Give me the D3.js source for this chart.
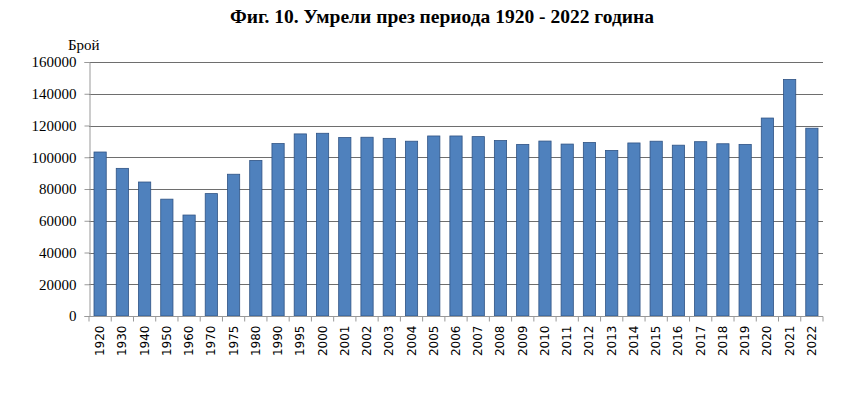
<!DOCTYPE html>
<html>
<head>
<meta charset="utf-8">
<style>
  body { margin: 0; background: #fff; }
  .title { font-family: "Liberation Serif", "Times New Roman", serif; font-weight: bold; font-size: 19.5px; }
  .ylab, .yaxis text { font-family: "Liberation Serif", "Times New Roman", serif; font-size: 15px; }
  .xaxis text { font-family: "DejaVu Sans", Verdana, sans-serif; font-size: 12px; }
</style>
</head>
<body>
<svg width="863" height="394"></svg>
<script src="https://d3js.org/d3.v7.min.js"></script>
<script>
  // years and number of deaths
  const years = ["1920","1930","1940","1950","1960","1970","1975","1980","1990","1995",
    "2000","2001","2002","2003","2004","2005","2006","2007","2008","2009","2010","2011",
    "2012","2013","2014","2015","2016","2017","2018","2019","2020","2021","2022"];
  const deaths = [103300, 93000, 84400, 73600, 63600, 77100, 89300, 98000, 108600, 114700,
    115100, 112400, 112600, 111900, 110100, 113400, 113400, 113000, 110500, 108100, 110200, 108300,
    109300, 104300, 109000, 110100, 107600, 109800, 108500, 108100, 124700, 149000, 118300];
  const yTicks = [0, 20000, 40000, 60000, 80000, 100000, 120000, 140000, 160000];

  const svg = d3.select("svg");
  const margin = { left: 89, right: 40, top: 62, bottom: 78 };
  const width = 863, height = 394;

  const x = d3.scaleBand()
    .domain(years)
    .range([margin.left, width - margin.right])
    .paddingInner(0.45)
    .paddingOuter(0.225);

  const y = d3.scaleLinear()
    .domain([0, 160000])
    .range([height - margin.bottom, margin.top]);

  svg.append("text")
    .attr("class", "title")
    .attr("x", 442)
    .attr("y", 23)
    .attr("text-anchor", "middle")
    .text("Фиг. 10. Умрели през периода 1920 - 2022 година");

  svg.append("text")
    .attr("class", "ylab")
    .attr("x", 68)
    .attr("y", 50)
    .text("Брой");

  // grid
  svg.selectAll(".grid")
    .data(yTicks.filter(d => d > 0))
    .join("line")
    .attr("x1", margin.left)
    .attr("x2", width - margin.right)
    .attr("y1", d => Math.round(y(d)) + 0.5)
    .attr("y2", d => Math.round(y(d)) + 0.5)
    .style("stroke", "#6e6e6e")
    .style("stroke-width", 1);

  // bars
  svg.selectAll(".bar")
    .data(deaths)
    .join("rect")
    .attr("x", (d, i) => x(years[i]))
    .attr("y", d => y(d))
    .attr("width", x.bandwidth())
    .attr("height", d => y(0) - y(d))
    .style("fill", "#4f81bd")
    .style("stroke", "#2f5384")
    .style("stroke-width", 0.8);

  // y axis
  const yAxis = svg.append("g")
    .attr("class", "yaxis")
    .attr("transform", `translate(${margin.left + 0.5},0)`)
    .call(d3.axisLeft(y).tickValues(yTicks).tickFormat(d3.format("d")).tickSize(5).tickPadding(8));
  yAxis.select(".domain").style("stroke", "#999");
  yAxis.selectAll(".tick line").style("stroke", "#999");
  yAxis.selectAll("text").style("fill", "#000");

  // x axis
  const step = x.step();
  const xAxis = svg.append("g")
    .attr("class", "xaxis")
    .attr("transform", `translate(0,${Math.round(y(0)) + 0.5})`);
  xAxis.append("line")
    .attr("x1", margin.left).attr("x2", width - margin.right)
    .style("stroke", "#999");
  xAxis.selectAll(".tk")
    .data(d3.range(years.length + 1))
    .join("line")
    .attr("x1", i => margin.left + i * step)
    .attr("x2", i => margin.left + i * step)
    .attr("y1", 0).attr("y2", 5)
    .style("stroke", "#999");
  xAxis.selectAll("text")
    .data(years)
    .join("text")
    .attr("transform", d => `translate(${x(d) + x.bandwidth() / 2 + 4},9) rotate(-90)`)
    .attr("text-anchor", "end")
    .style("fill", "#000")
    .text(d => d);
</script>
</body>
</html>
